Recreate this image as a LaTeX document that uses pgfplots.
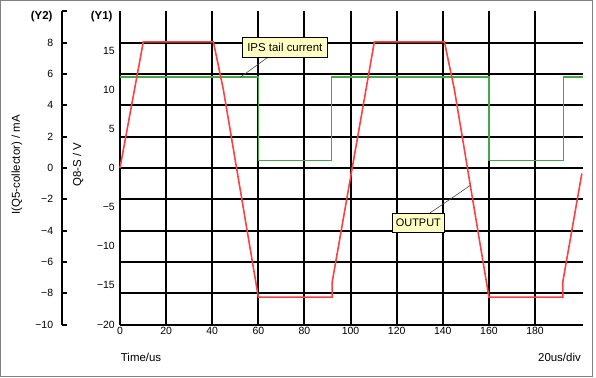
\documentclass[border=0pt]{standalone}
\usepackage{fontspec}
\setmainfont{Liberation Sans}
\usepackage{pgfplots}
\usepackage{pgfplotstable}
\pgfplotsset{compat=1.18}
\definecolor{outred}{RGB}{255,64,64}
\definecolor{ipsgreen}{RGB}{70,165,70}
\definecolor{notefill}{RGB}{255,255,196}
\definecolor{framegray}{RGB}{128,128,128}
\newcommand{\tickfont}{\fontsize{10.5}{12}\selectfont}
\newcommand{\txtfont}{\fontsize{11.5}{13}\selectfont}

% OUTPUT (Q8-S) in V
\pgfplotstableread{
t    v
0      0
10.1   16.1
40.5   16.1
44.8   10.05
60    -16.5
92    -16.5
92    -14.6
110.3  16.1
140.7  16.1
145    10.05
160   -16.5
192   -16.5
192   -14.6
200.3 -0.7
}\outputdata

% IPS tail current I(Q5-collector) in mA
\pgfplotstableread{
t     mA
0     5.81
60    5.81
60    0.47
91.8  0.47
91.8  5.81
160   5.81
160   0.47
192.3 0.47
192.3 5.81
200.8 5.81
}\ipsdata

\begin{document}
\begin{tikzpicture}
\path[use as bounding box] (0,0) rectangle (596bp,378bp);
\draw[framegray, line width=1bp] (0.5bp,1.3bp) rectangle (592.3bp,377.5bp);

% ---- Y2 axis (mA) ----
\begin{axis}[
  at={(62bp,53.4bp)}, anchor=south west,
  scale only axis, width=10bp, height=313.2bp,
  xmin=0, xmax=1, ymin=-10, ymax=10,
  hide x axis,
  axis y line*=left,
  y axis line style={line width=2bp, black},
  ytick={-10,-8,...,10},
  yticklabels={−10,−8,−6,−4,−2,0,2,4,6,8,},
  tick align=inside,
  major tick length=5bp,
  major tick style={line width=2bp, black},
  yticklabel style={font=\tickfont, anchor=east, inner sep=0pt, xshift=-8.7bp},
  ylabel={I(Q5-collector) / mA},
  every axis y label/.style={at={(axis description cs:-4.5,0.51)}, rotate=90, anchor=center, font=\txtfont},
  clip=false,
]
\addplot[draw=none] coordinates {(0,0)};
\node[anchor=east, inner sep=0pt, font=\fontsize{11.5}{13}\selectfont\bfseries] at (rel axis cs:0,1) [xshift=-9.3bp, yshift=-5.3bp] {(Y2)};
\end{axis}

% ---- main axis (V) ----
\begin{axis}[
  at={(120bp,53.4bp)}, anchor=south west,
  scale only axis, width=463bp, height=313.2bp,
  xmin=0, xmax=200.8, ymin=-20, ymax=20,
  axis lines*=left,
  axis line style={line width=2bp, black},
  xtick={0,20,...,180},
  xticklabels={0,20,40,60,80,100,120,140,160,180},
  ytick={-20,-15,...,15},
  yticklabels={−20,−15,−10,−5,0,5,10,15},
  major tick length=0pt,
  xmajorgrids,
  extra y ticks={-16,-12,...,16},
  extra y tick labels={},
  extra y tick style={ymajorgrids, major tick length=0pt},
  grid style={line width=2bp, black},
  xticklabel style={font=\tickfont, anchor=north, inner sep=0pt, yshift=-2.2bp},
  yticklabel style={font=\tickfont, anchor=east, inner sep=0pt, xshift=-5bp},
  ylabel={Q8-S / V},
  every axis y label/.style={at={(axis description cs:-0.0907,0.51)}, rotate=90, anchor=center, font=\txtfont},
  clip=false,
]
\addplot[ipsgreen, line width=1.6bp] table[x=t, y expr=2*\thisrow{mA}] {\ipsdata};
\addplot[outred, line width=1.6bp] table[x=t, y=v] {\outputdata};

\draw[black!70, line width=0.6bp] (axis cs:64.25,14.17) -- (axis cs:52.1,11.58);
\node[draw=black, fill=notefill, line width=0.6bp, minimum width=85bp, minimum height=20bp, inner sep=0pt, font=\txtfont] at (axis cs:71.5,15.41) {IPS tail current};

\draw[black!70, line width=0.6bp] (axis cs:134.2,-5.79) -- (axis cs:152.2,-2.17);
\node[draw=black, fill=notefill, line width=0.6bp, minimum width=52.6bp, minimum height=19.4bp, inner sep=0pt, font=\fontsize{11}{13}\selectfont] at (axis cs:129.4,-7.02) {OUTPUT};

\node[anchor=east, inner sep=0pt, font=\fontsize{11.5}{13}\selectfont\bfseries] at (rel axis cs:0,1) [xshift=-7.3bp, yshift=-5.3bp] {(Y1)};
\node[anchor=west, inner sep=0pt, font=\txtfont] at (rel axis cs:0,0) [xshift=0.7bp, yshift=-32.4bp] {Time/us};
\node[anchor=east, inner sep=0pt, font=\txtfont] at (rel axis cs:1,0) [xshift=-2bp, yshift=-32.4bp] {20us/div};
\end{axis}
\end{tikzpicture}
\end{document}
